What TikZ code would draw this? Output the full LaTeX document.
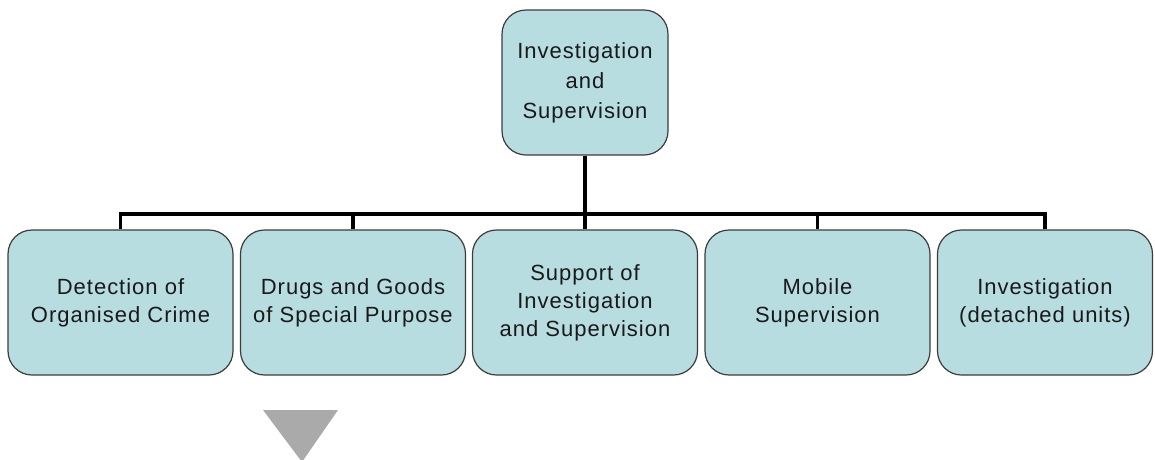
\documentclass[tikz,border=0pt]{standalone}
\usepackage{fontspec}
\setmainfont{Liberation Sans}[LetterSpace=4.5]
\definecolor{boxfill}{RGB}{184,221,225}
\definecolor{boxline}{RGB}{60,60,60}
\definecolor{arrowgray}{RGB}{170,170,170}
\begin{document}
\begin{tikzpicture}[x=1pt,y=-1pt,
  unit/.style={draw=boxline, line width=1.2pt, fill=boxfill, rounded corners=24pt,
    minimum width=225pt, minimum height=145pt, align=center, inner sep=0pt,
    text=black!90, font=\fontsize{22}{28}\selectfont},
  topunit/.style={unit, minimum width=166pt, font=\fontsize{22}{30}\selectfont},
  link/.style={line width=3.5pt, black}]
\useasboundingbox (0,0) rectangle (1155,459);
\node[topunit] (top) at (585,82.5) {Investigation\\and\\Supervision};
\node[unit] (b1) at (120.5,302.5) {Detection of\\Organised Crime};
\node[unit] (b2) at (353,302.5) {Drugs and Goods\\of Special Purpose};
\node[unit] (b3) at (585,302.5) {Support of\\Investigation\\and Supervision};
\node[unit] (b4) at (817.5,302.5) {Mobile\\Supervision};
\node[unit, minimum width=215pt] (b5) at (1045,302.5) {Investigation\\(detached units)};
\coordinate (bus) at (585,214);
\draw[link] (top.south) -- (bus);
\draw[link] (b1.north) |- (bus);
\draw[link] (b5.north) |- (bus);
\draw[link] (b2.north) -- (b2.north |- bus);
\draw[link] (b3.north) -- (b3.north |- bus);
\draw[link] (b4.north) -- (b4.north |- bus);
\fill[arrowgray] (263,410) -- (338,410) -- (302,462) -- cycle;
\end{tikzpicture}
\end{document}
